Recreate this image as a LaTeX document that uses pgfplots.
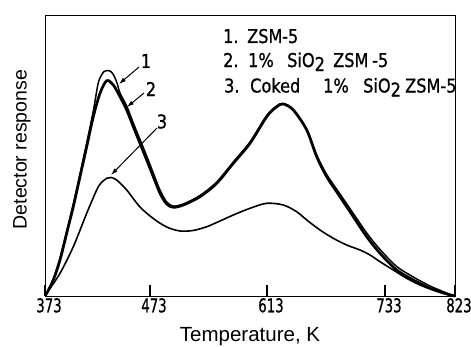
\documentclass[border=0pt]{standalone}
\usepackage{fontspec}
\setmainfont{Liberation Sans}
\newfontfamily\cond[FakeStretch=0.85,FakeBold=0.9]{DejaVu Sans}
\newfontfamily\tickf[FakeStretch=0.7,FakeBold=0.8]{DejaVu Sans}
\usepackage{pgfplots}
\pgfplotsset{compat=1.18}
\usetikzlibrary{arrows.meta}
\newcommand{\sub}[1]{\raisebox{-4pt}{#1}}
\begin{document}
\begin{tikzpicture}[x=1pt,y=1pt]
\useasboundingbox (0,0) rectangle (471,346);
\begin{axis}[
  at={(45pt,50pt)}, anchor=south west,
  scale only axis, width=410pt, height=280pt,
  xmin=45, xmax=455, ymin=0, ymax=280,
  axis line style={line width=1pt},
  xtick={45,150,267,385,455},
  xticklabels={373,473,613,733,823},
  ytick=\empty,
  tick pos=left,
  tick align=inside,
  major tick length=11pt,
  tick style={line width=1.2pt, black},
  xticklabel style={font=\tickf\fontsize{19}{19}\selectfont, xshift=4pt, inner sep=2pt},
  xlabel={Temperature, K},
  ylabel={Detector response},
  every axis x label/.style={at={(axis description cs:0.5,-0.112)}, anchor=north, inner sep=0pt, font=\fontsize{20.5}{20.5}\selectfont},
  every axis y label/.style={at={(axis description cs:-0.078,0.523)}, rotate=90, anchor=north, inner sep=0pt, font=\fontsize{19.5}{19.5}\selectfont},
  clip=false,
]
% curve 2 (thick)
\addplot[line width=2.7pt, smooth, black] coordinates {
(45,0) (46.7,2.7) (53.3,16) (60,36) (66.7,62.7) (73.3,89.3) (80,119.3) (86.7,149.3)
(93.3,179.3) (100,202.7) (106.7,215.3) (113.3,211) (120,199.3) (126.7,186) (133.3,169.3)
(140,152.7) (146.7,136) (153.3,119.3) (160,102.7) (166.7,92) (173.3,88.7) (183.3,91)
(200,99.3) (216.7,112.7) (233.3,132.7) (250,152.7) (266.7,179.3) (276.7,189.3) (283.3,192)
(293.3,186) (306.7,166) (316.7,139.3) (326.7,119.3) (340,99.3) (353.3,79.3) (366.7,59.3)
(380,42.7) (396.7,26) (413.3,16) (430,7.7) (446.7,2) (455,0)
};
% curve 1
\addplot[line width=1.5pt, smooth, black] coordinates {
(45,0) (46.7,3) (53.3,17) (60,38) (66.7,65) (73.3,92) (80,122) (86.7,153) (93.3,185)
(98,212) (101,220) (104,224.5) (107,225.5) (110,225) (113,222) (116.7,214) (120,203)
(126.7,190) (133.3,173) (140,156.5) (146.7,140) (153.3,123) (160,106) (166.7,94) (173.3,90)
(183.3,92) (200,100.5) (216.7,114) (233.3,134) (250,154) (266.7,180.5) (276.7,190)
(283.3,192.5) (293.3,186.5) (306.7,167) (316.7,141) (326.7,121.5) (340,102) (353.3,82.5)
(366.7,63) (380,46.5) (396.7,29.5) (413.3,19) (430,10) (446.7,3) (455,0)
};
% curve 3
\addplot[line width=1.6pt, smooth, black] coordinates {
(45,0) (46.7,2.7) (60,22.7) (73.3,49.3) (86.7,82.7) (96.7,106) (101,113) (106.7,117.7)
(111,118.5) (116.7,116) (126.7,106) (140,89) (153.3,77.5) (166.7,69) (180,65)
(193,65.5) (206,69) (216.7,73.5) (233.3,81) (250,87.7) (266.7,92.7) (283.3,91) (296.7,84.3)
(306.7,76) (320,66) (333.3,57.7) (346.7,51) (360,46) (370,41) (380,34.3) (393.3,26)
(406.7,17.7) (420,11) (433.3,6) (446.7,2) (455,0)
};
% arrows and labels
\draw[line width=1pt, -{Latex[length=7pt,width=4.5pt]}] (axis cs:139,229) -- (axis cs:119,212);
\draw[line width=1pt, -{Latex[length=7pt,width=4.5pt]}] (axis cs:144,203) -- (axis cs:127,189);
\draw[line width=1pt, -{Latex[length=7pt,width=4.5pt]}] (axis cs:157,168) -- (axis cs:111,121);
\node[font=\cond\fontsize{19}{19}\selectfont] at (axis cs:146,235) {1};
\node[font=\cond\fontsize{19}{19}\selectfont] at (axis cs:151,207) {2};
\node[font=\cond\fontsize{19}{19}\selectfont] at (axis cs:162,174.5) {3};
% legend text, word by word
\begin{scope}[every node/.style={font=\cond\fontsize{19}{19}\selectfont, anchor=base west, inner sep=0pt}]
\node at (axis cs:223,253) {1.};
\node at (axis cs:247,253) {ZSM};
\node at (axis cs:282,253) {-5};
\node at (axis cs:223,229) {2.};
\node at (axis cs:248,229) {1\%};
\node at (axis cs:287,229) {SiO\sub{2}};
\node at (axis cs:333,229) {ZSM};
\node at (axis cs:372,229) {-5};
\node at (axis cs:224,203.5) {3.};
\node at (axis cs:250,203.5) {Coked};
\node at (axis cs:323,203.5) {1\%};
\node at (axis cs:363,203.5) {SiO\sub{2}};
\node at (axis cs:405,203.5) {ZSM-5};
\end{scope}
\end{axis}
\end{tikzpicture}
\end{document}
